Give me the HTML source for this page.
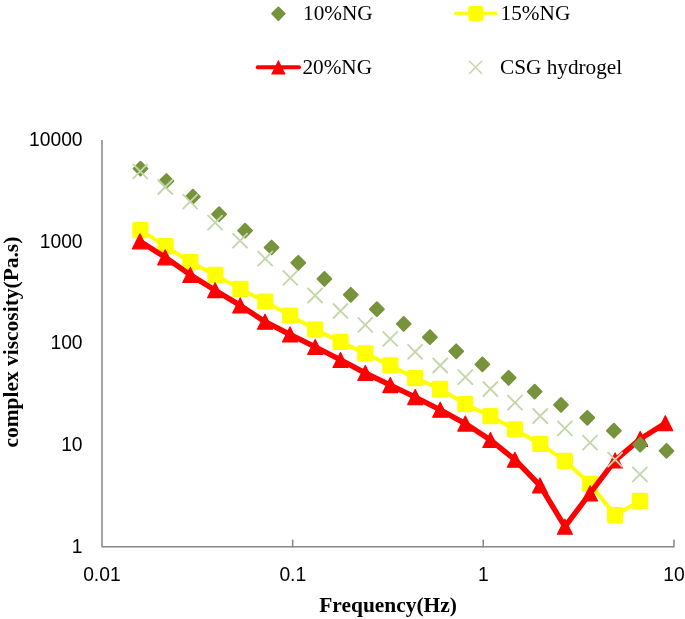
<!DOCTYPE html>
<html><head><meta charset="utf-8"><title>chart</title>
<style>
html,body{margin:0;padding:0;background:#fff;}
body{width:685px;height:619px;overflow:hidden;}
svg{display:block;will-change:transform;}
.tk{font-family:"Liberation Sans",sans-serif;font-size:19.3px;fill:#000;}
.lg{font-family:"Liberation Serif",serif;font-size:21.25px;fill:#000;}
.tt{font-family:"Liberation Serif",serif;font-size:21.45px;font-weight:bold;fill:#000;}
</style></head><body>
<svg width="685" height="619" viewBox="0 0 685 619">
<rect width="685" height="619" fill="#fff"/>

<g stroke="#868686" stroke-width="1.5" fill="none">
<path d="M102 139.9V546.65H673.95" stroke-linejoin="round"/>
<path d="M292.65 540.3V546.65" stroke-linecap="round"/>
<path d="M483.2 540.3V546.65" stroke-linecap="round"/>
<path d="M673.95 540.3V546.65" stroke-linecap="round"/>
</g>
<text class="tk" x="82.6" y="146.1" text-anchor="end">10000</text>
<text class="tk" x="82.6" y="247.7" text-anchor="end">1000</text>
<text class="tk" x="82.6" y="349.4" text-anchor="end">100</text>
<text class="tk" x="82.6" y="451.1" text-anchor="end">10</text>
<text class="tk" x="82.6" y="552.9" text-anchor="end">1</text>
<text class="tk" x="101.9" y="580.5" text-anchor="middle">0.01</text>
<text class="tk" x="292.8" y="580.5" text-anchor="middle">0.1</text>
<text class="tk" x="483.4" y="580.5" text-anchor="middle">1</text>
<text class="tk" x="674" y="580.5" text-anchor="middle">10</text>
<text class="tt" x="388.1" y="612.1" text-anchor="middle">Frequency(Hz)</text>
<text class="tt" transform="translate(17.7 342.1) rotate(-90)" text-anchor="middle">complex viscosity(Pa.s)</text>
<polyline points="140.4,230.1 165.5,246.1 190.3,262.2 215.4,274.9 240.4,288.9 265.2,301.6 290.1,315.6 315.2,329.5 340.5,341.9 365.3,353.4 390.3,365.4 415.2,378.2 440.0,388.9 465.3,404.1 490.4,416.2 514.9,429.4 540.3,443.9 564.9,460.8 590.0,483.9 615.1,515.2 639.9,500.9" fill="none" stroke="#ffff00" stroke-width="4.0" stroke-linejoin="round" stroke-linecap="round"/>
<g fill="#ffff00"><rect x="132.3" y="222.0" width="16.2" height="16.2" rx="1.5"/><rect x="157.4" y="238.0" width="16.2" height="16.2" rx="1.5"/><rect x="182.2" y="254.1" width="16.2" height="16.2" rx="1.5"/><rect x="207.3" y="266.8" width="16.2" height="16.2" rx="1.5"/><rect x="232.3" y="280.8" width="16.2" height="16.2" rx="1.5"/><rect x="257.1" y="293.4" width="16.2" height="16.2" rx="1.5"/><rect x="282.0" y="307.5" width="16.2" height="16.2" rx="1.5"/><rect x="307.1" y="321.4" width="16.2" height="16.2" rx="1.5"/><rect x="332.4" y="333.8" width="16.2" height="16.2" rx="1.5"/><rect x="357.2" y="345.3" width="16.2" height="16.2" rx="1.5"/><rect x="382.2" y="357.3" width="16.2" height="16.2" rx="1.5"/><rect x="407.1" y="370.1" width="16.2" height="16.2" rx="1.5"/><rect x="431.9" y="380.8" width="16.2" height="16.2" rx="1.5"/><rect x="457.2" y="396.0" width="16.2" height="16.2" rx="1.5"/><rect x="482.3" y="408.1" width="16.2" height="16.2" rx="1.5"/><rect x="506.8" y="421.3" width="16.2" height="16.2" rx="1.5"/><rect x="532.2" y="435.8" width="16.2" height="16.2" rx="1.5"/><rect x="556.8" y="452.7" width="16.2" height="16.2" rx="1.5"/><rect x="581.9" y="475.8" width="16.2" height="16.2" rx="1.5"/><rect x="607.0" y="507.1" width="16.2" height="16.2" rx="1.5"/><rect x="631.8" y="492.8" width="16.2" height="16.2" rx="1.5"/></g>
<polyline points="139.9,241.3 165.2,257.3 190.3,274.9 215.1,290.2 240.2,305.4 265.0,321.7 290.0,334.5 315.2,346.9 340.5,359.9 365.3,373.0 390.3,385.1 415.2,397.1 440.2,409.8 465.3,423.6 490.4,439.9 514.9,459.7 540.0,485.5 564.9,526.7 590.0,493.4 615.1,460.4 640.2,439.0 665.3,423.2" fill="none" stroke="#ff0000" stroke-width="5.4" stroke-linejoin="round" stroke-linecap="round"/>
<g fill="#ff0000" stroke="#ff0000" stroke-width="1.2" stroke-linejoin="round"><path d="M139.9 233.8L147.4 248.8L132.4 248.8Z"/><path d="M165.2 249.8L172.7 264.8L157.7 264.8Z"/><path d="M190.3 267.4L197.8 282.4L182.8 282.4Z"/><path d="M215.1 282.7L222.6 297.7L207.6 297.7Z"/><path d="M240.2 297.9L247.7 312.9L232.7 312.9Z"/><path d="M265.0 314.2L272.5 329.2L257.5 329.2Z"/><path d="M290.0 327.0L297.5 342.0L282.5 342.0Z"/><path d="M315.2 339.4L322.7 354.4L307.7 354.4Z"/><path d="M340.5 352.4L348.0 367.4L333.0 367.4Z"/><path d="M365.3 365.5L372.8 380.5L357.8 380.5Z"/><path d="M390.3 377.6L397.8 392.6L382.8 392.6Z"/><path d="M415.2 389.6L422.7 404.6L407.7 404.6Z"/><path d="M440.2 402.2L447.7 417.2L432.7 417.2Z"/><path d="M465.3 416.1L472.8 431.1L457.8 431.1Z"/><path d="M490.4 432.4L497.9 447.4L482.9 447.4Z"/><path d="M514.9 452.2L522.4 467.2L507.4 467.2Z"/><path d="M540.0 478.0L547.5 493.0L532.5 493.0Z"/><path d="M564.9 519.2L572.4 534.2L557.4 534.2Z"/><path d="M590.0 485.9L597.5 500.9L582.5 500.9Z"/><path d="M615.1 452.9L622.6 467.9L607.6 467.9Z"/><path d="M640.2 431.5L647.7 446.5L632.7 446.5Z"/><path d="M665.3 415.7L672.8 430.7L657.8 430.7Z"/></g>
<g fill="#77933c" stroke="#77933c" stroke-width="2" stroke-linejoin="round"><path d="M140.5 161.7L147.4 168.6L140.5 175.5L133.6 168.6Z"/><path d="M166.4 174.1L173.3 181.0L166.4 187.9L159.5 181.0Z"/><path d="M192.9 189.7L199.8 196.6L192.9 203.5L186.0 196.6Z"/><path d="M219.1 207.3L226.0 214.2L219.1 221.1L212.2 214.2Z"/><path d="M245.1 223.7L252.0 230.6L245.1 237.5L238.2 230.6Z"/><path d="M271.6 240.6L278.5 247.5L271.6 254.4L264.7 247.5Z"/><path d="M298.3 255.9L305.2 262.8L298.3 269.7L291.4 262.8Z"/><path d="M324.4 272.0L331.3 278.9L324.4 285.8L317.5 278.9Z"/><path d="M350.8 287.9L357.7 294.8L350.8 301.7L343.9 294.8Z"/><path d="M376.9 302.3L383.8 309.2L376.9 316.1L370.0 309.2Z"/><path d="M403.7 317.0L410.6 323.9L403.7 330.8L396.8 323.9Z"/><path d="M429.9 330.3L436.8 337.2L429.9 344.1L423.0 337.2Z"/><path d="M456.2 344.4L463.1 351.3L456.2 358.2L449.3 351.3Z"/><path d="M482.4 357.5L489.3 364.4L482.4 371.3L475.5 364.4Z"/><path d="M508.6 370.9L515.5 377.8L508.6 384.7L501.7 377.8Z"/><path d="M534.7 384.7L541.6 391.6L534.7 398.5L527.8 391.6Z"/><path d="M561.0 398.0L567.9 404.9L561.0 411.8L554.1 404.9Z"/><path d="M587.3 410.9L594.2 417.8L587.3 424.7L580.4 417.8Z"/><path d="M613.9 423.8L620.8 430.7L613.9 437.6L607.0 430.7Z"/><path d="M640.2 437.8L647.1 444.7L640.2 451.6L633.3 444.7Z"/><path d="M666.5 444.0L673.4 450.9L666.5 457.8L659.6 450.9Z"/></g>
<g fill="none" stroke="#c4d6aa" stroke-width="1.9" stroke-linecap="round"><path d="M133.2 164.4L147.2 178.4M147.2 164.4L133.2 178.4"/><path d="M158.3 180.0L172.3 194.0M172.3 180.0L158.3 194.0"/><path d="M183.2 194.6L197.2 208.6M197.2 194.6L183.2 208.6"/><path d="M208.1 215.7L222.1 229.7M222.1 215.7L208.1 229.7"/><path d="M233.0 233.7L247.0 247.7M247.0 233.7L233.0 247.7"/><path d="M258.2 251.6L272.2 265.6M272.2 251.6L258.2 265.6"/><path d="M283.3 270.8L297.3 284.8M297.3 270.8L283.3 284.8"/><path d="M308.1 288.5L322.1 302.5M322.1 288.5L308.1 302.5"/><path d="M333.5 304.0L347.5 318.0M347.5 304.0L333.5 318.0"/><path d="M358.3 317.9L372.3 331.9M372.3 317.9L358.3 331.9"/><path d="M383.2 331.8L397.2 345.8M397.2 331.8L383.2 345.8"/><path d="M408.1 344.8L422.1 358.8M422.1 344.8L408.1 358.8"/><path d="M433.2 358.5L447.2 372.5M447.2 358.5L433.2 372.5"/><path d="M458.3 370.1L472.3 384.1M472.3 370.1L458.3 384.1"/><path d="M483.4 382.0L497.4 396.0M497.4 382.0L483.4 396.0"/><path d="M508.0 395.6L522.0 409.6M522.0 395.6L508.0 409.6"/><path d="M533.2 409.0L547.2 423.0M547.2 409.0L533.2 423.0"/><path d="M557.9 421.3L571.9 435.3M571.9 421.3L557.9 435.3"/><path d="M583.0 435.6L597.0 449.6M597.0 435.6L583.0 449.6"/><path d="M608.1 452.7L622.1 466.7M622.1 452.7L608.1 466.7"/><path d="M632.9 467.4L646.9 481.4M646.9 467.4L632.9 481.4"/></g>
<g fill="#77933c" stroke="#77933c" stroke-width="1.8" stroke-linejoin="round"><path d="M278.4 7.4L284.7 13.7L278.4 20.0L272.1 13.7Z"/></g>
<text class="lg" x="303.0" y="20.2">10%NG</text>
<path d="M455.5 13.2H496" stroke="#ffff00" stroke-width="3" stroke-linecap="round"/>
<g fill="#ffff00"><rect x="468.3" y="5.9" width="15.2" height="15.2" rx="2"/></g>
<text class="lg" x="500.6" y="20.2">15%NG</text>
<path d="M257.7 67.3H299" stroke="#ff0000" stroke-width="4" stroke-linecap="round"/>
<g fill="#ff0000"><path d="M278.4 59.8L285.7 74.4L271.1 74.4Z"/></g>
<text class="lg" x="302.4" y="73.5">20%NG</text>
<g fill="none" stroke="#c4d6aa" stroke-width="1.5" stroke-linecap="round"><path d="M469.5 61.3L481.7 73.5M481.7 61.3L469.5 73.5"/></g>
<text class="lg" x="500" y="73.5">CSG hydrogel</text>
</svg></body></html>
